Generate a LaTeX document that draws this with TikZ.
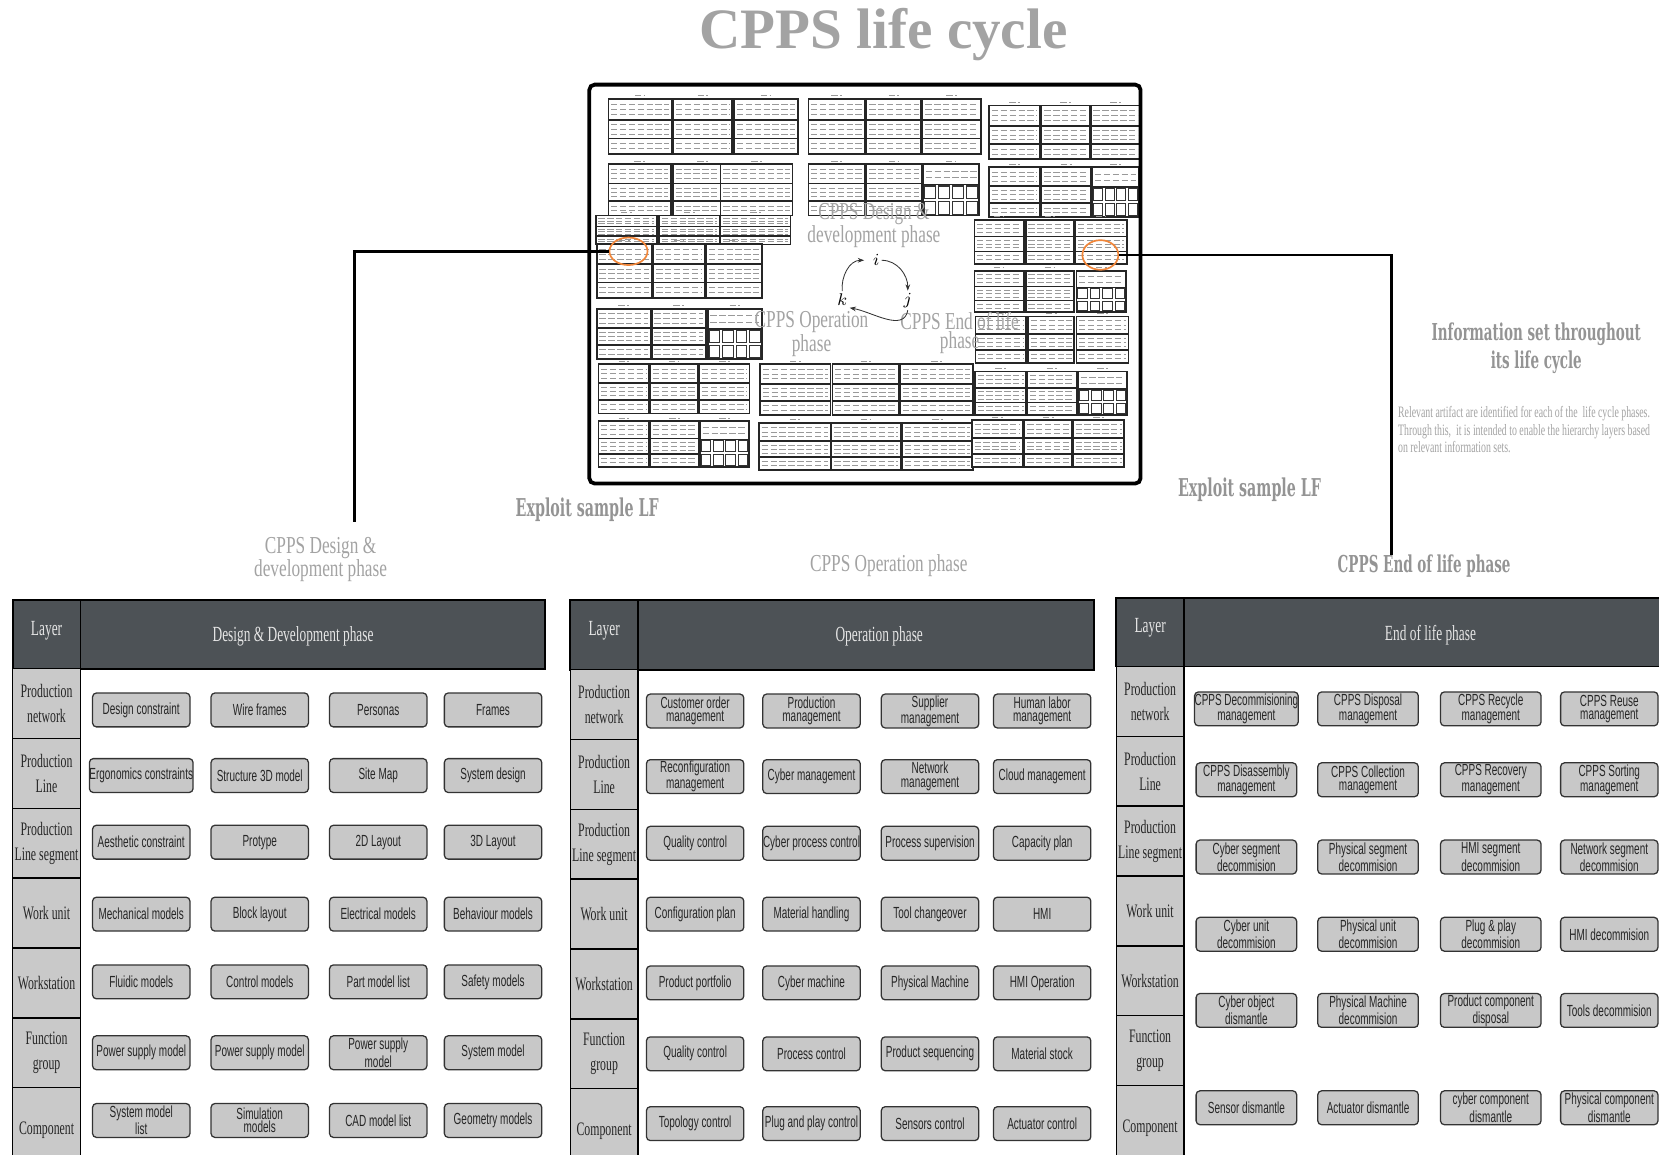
\documentclass[tikz,border=0pt]{standalone}
\usepackage{fontspec}
\setmainfont{Liberation Serif}
\newfontfamily\itemfont[FakeStretch=0.62]{Liberation Sans}
\newfontfamily\layerfont[FakeStretch=0.62]{Liberation Serif}
\newfontfamily\phasefont[FakeStretch=0.71]{Liberation Serif}
\newfontfamily\slabfont[FakeStretch=0.58]{DejaVu Serif Bold}
\usetikzlibrary{shapes.geometric, arrows.meta, positioning}

\definecolor{hdrgray}{HTML}{4D5256}
\definecolor{cellgray}{HTML}{C9C9C9}
\definecolor{boxgray}{HTML}{C8C8C8}
\definecolor{labelgray}{HTML}{A3A3A3}
\definecolor{ringorange}{HTML}{F0863A}

% text rows inside one sheet box: x-left, y-top, x-right, y-bottom, rows
\newcommand\lfrules[5]{%
  \foreach \kk in {1,...,#5}{
    \pgfmathsetmacro\lfyy{#2+(#4-#2)*\kk/(#5+1)}
    \draw[scribble] ({#1+2.5},-\lfyy) -- ({#3-2.5},-\lfyy);
  }}

% one small LF sheet of the overview: x-left, y-top, x-right, y-bottom
\newcommand\lfsheet[4]{%
  \pgfmathsetmacro\lfya{#2+0.38*(#4-#2)}
  \pgfmathsetmacro\lfyb{#2+0.72*(#4-#2)}
  \draw[scribble] ({(#1+#3)/2-5},{-#2+3}) -- ++(10,0);
  \draw[sheet] (#1,-#2) rectangle (#3,-\lfya);
  \draw[sheet] (#1,-\lfya) rectangle (#3,-\lfyb);
  \draw[sheet] (#1,-\lfyb) rectangle (#3,-#4);
  \lfrules{#1}{#2}{#3}{\lfya}{3}
  \lfrules{#1}{\lfya}{#3}{\lfyb}{3}
  \lfrules{#1}{\lfyb}{#3}{#4}{2}}

% sheet with a block of small cells at the bottom
\newcommand\lfgridsheet[4]{%
  \pgfmathsetmacro\lfya{#2+0.4*(#4-#2)}
  \pgfmathsetmacro\lfcw{(#3-#1)/4}
  \pgfmathsetmacro\lfch{(#4-\lfya)/2}
  \draw[scribble] ({(#1+#3)/2-5},{-#2+3}) -- ++(10,0);
  \draw[sheet] (#1,-#2) rectangle (#3,-\lfya);
  \lfrules{#1}{#2}{#3}{\lfya}{2}
  \draw[sheet] (#1,-\lfya) rectangle (#3,-#4);
  \foreach \cx in {0,...,3}{
    \foreach \cy in {0,1}{
      \draw[cellbox] ({#1+\cx*\lfcw+1.3},{-(\lfya+\cy*\lfch+1.3)}) rectangle ++({\lfcw-2.6},{-(\lfch-2.6)});
    }}}

% a band of sheets: y-top, y-bottom, list of x-left/x-right
\newcommand\lfrow[3]{%
  \foreach \xa/\xb in {#3}{\lfsheet{\xa}{#1}{\xb}{#2}}}

% layer column of a phase table: x-left, y-top, name prefix
\newcommand\layercol[3]{%
  \foreach \lbl [count=\rw] in {{Production\\network},{Production\\Line},{Production\\Line segment},{Work unit},{Workstation},{Function\\group},{Component}}{
    \pgfmathsetmacro\lcy{#2+66*(\rw-1)}
    \pgfmathsetmacro\lch{ifthenelse(\rw==7,80,66)}
    \draw[laycell] (#1,-\lcy) rectangle ++(64,-\lch);
    \node[laytext] (#3\rw) at ({#1+32},{-\lcy-\lch/2}) {\lbl};
  }}

\begin{document}
\begin{tikzpicture}[x=0.5pt, y=0.5pt,
    sheet/.style={draw=black!85, line width=0.8pt, fill=white},
    cellbox/.style={draw=black!80, line width=0.5pt, fill=white},
    scribble/.style={draw=black!40, line width=0.3pt, dash pattern=on 3pt off 1.2pt},
    frame/.style={draw=black, line width=1.8pt, rounded corners=2.5pt},
    link/.style={draw=black, line width=1.4pt},
    ring/.style={ellipse, draw=ringorange, line width=0.8pt, inner sep=0pt},
    cyc/.style={inner sep=1pt, font=\fontsize{8}{9}\selectfont},
    cycarrow/.style={-{Stealth[length=3pt, width=2.2pt]}, line width=0.4pt, black!80},
    title/.style={text=labelgray, font=\bfseries\fontsize{27}{30}\selectfont},
    slab/.style={align=center, text=black!42, font=\slabfont\fontsize{11}{13.5}\selectfont},
    phaselabel/.style={align=center, text=labelgray, font=\phasefont\fontsize{11.5}{11}\selectfont},
    phasetight/.style={align=center, text=labelgray, font=\phasefont\fontsize{11.5}{6.5}\selectfont},
    note/.style={align=left, text=labelgray, inner sep=0pt, font=\layerfont\fontsize{7.5}{8.25}\selectfont},
    hdrcell/.style={draw=black, line width=0.8pt, fill=hdrgray},
    hdrtext/.style={text=white!90!black, font=\layerfont\fontsize{10.2}{12}\selectfont},
    laycell/.style={draw=black, line width=0.7pt, fill=cellgray},
    laytext/.style={align=center, inner sep=0pt, text=black!85, font=\layerfont\fontsize{9}{12}\selectfont},
    item/.style={draw=black!80, line width=0.6pt, fill=boxgray, rounded corners=1.8pt,
      minimum width=46pt, minimum height=16pt, inner sep=0pt, align=center, text=black!85,
      font=\itemfont\fontsize{7.6}{6.4}\selectfont}]

  \useasboundingbox (0,0) rectangle (1568,-1091);

  % title
  \node[title, anchor=base] (lifecycle) at (835,-46) {CPPS life cycle};

  % overview of the LF sheets
  \lfrow{93.5}{145.5}{575/635, 636.5/692, 694/754}
  \lfrow{93.5}{145.5}{764/817.5, 819/870.7, 872/927}
  \lfrow{99.8}{150.2}{935/983, 984.5/1030, 1031/1078}
  \lfrow{155}{203.7}{575/634, 636/692, 681/749}
  \lfrow{155}{203.7}{764/817.5, 819/871}
  \lfgridsheet{872.5}{155}{925.5}{203.7}
  \lfrow{158}{205.3}{935/983, 984.5/1031}
  \lfgridsheet{1032.5}{158}{1076}{205.3}
  \lfrow{203.7}{231}{563/621, 623/680, 681/747}
  \lfrow{230.4}{281.4}{564/616, 617.7/666, 667.4/720}
  \lfrow{207.8}{249.3}{921/967.7, 969.4/1015, 1016.4/1065}
  \lfrow{256}{295}{921/967.7, 969.4/1015.3}
  \lfgridsheet{1017.4}{256}{1064.3}{295}
  \lfrow{291.8}{339}{564/615, 616/667}
  \lfgridsheet{669}{291.8}{720}{339}
  \lfrow{299}{343}{922/970, 971.8/1015.3, 1017.4/1066.7}
  \lfrow{344.3}{390.9}{565.6/613.6, 614.6/659.8, 660.9/708.5}
  \lfrow{344.3}{392.5}{718.5/785, 786.7/850, 851/919.3}
  \lfrow{351}{392}{921.4/970, 970.8/1017.4}
  \lfgridsheet{1018.8}{351}{1065.4}{392}
  \lfrow{398}{441.3}{565.6/613.6, 614.6/660.9}
  \lfgridsheet{661.6}{398}{707.8}{441.3}
  \lfrow{399.7}{444.4}{717.4/785, 786/851, 852.8/919.3}
  \lfrow{397}{441.3}{918.6/966.6, 968.4/1013, 1014/1062.6}

  % phase names and cycle
  \node[phaselabel] (ddmid) at (826,-213) {CPPS Design \&\\development phase};
  \node[phasetight] (opmid) at (767,-316) {CPPS Operation\\phase};
  \node[phasetight] (eolmid) at (907,-315) {CPPS End of life\\phase};
  \node[cyc] (ci) at (828,-246) {$i$};
  \node[cyc] (cj) at (858,-284) {$j$};
  \node[cyc] (ck) at (796,-283) {$k$};
  \draw[cycarrow] (ck.north) to[out=95, in=180] ([xshift=-3pt]ci.west);
  \draw[cycarrow] (ci.east) to[out=0, in=90] (cj.north);
  \draw[cycarrow] (cj.south) to[out=-100, in=-10] (ck.south east);

  \draw[frame] (557,-80) rectangle (1078,-457);

  % selected sheets and links to the tables
  \node[ring, minimum width=18pt, minimum height=13pt] (ringl) at (594,-237.5) {};
  \node[ring, minimum width=17pt, minimum height=14pt] (ringr) at (1040,-241) {};
  \coordinate (ldrop) at (335,-493);
  \coordinate (rdrop) at (1315,-525);
  \draw[link] (ringl.west) -| (ldrop);
  \draw[link] (ringr.east) -| (rdrop);

  % side texts
  \node[slab] (infoset) at (1452,-329) {Information set throughout\\its life cycle};
  \node[note, anchor=north west] (infotext) at (1321,-384) {Relevant artifact are identified for each of the \ life cycle phases.\\Through this, \ it is intended to enable the hierarchy layers based\\on relevant information sets.};
  \node[slab, font=\slabfont\fontsize{11.6}{13.5}\selectfont] (exploitl) at (555,-482) {Exploit sample LF};
  \node[slab, font=\slabfont\fontsize{11.6}{13.5}\selectfont] (exploitr) at (1181,-463) {Exploit sample LF};
  \node[phaselabel] (ddlabel) at (303,-529) {CPPS Design \&\\development phase};
  \node[phaselabel] (oplabel) at (840,-535) {CPPS Operation phase};
  \node[slab] (eollabel) at (1346,-535) {CPPS End of life phase};

  % Design & Development table
  \draw[hdrcell] (12,-567) rectangle (76,-632);
  \draw[hdrcell] (76,-567) rectangle (515,-632);
  \node[hdrtext] (ddlayer) at (44,-596) {Layer};
  \node[hdrtext] (ddhead) at (277,-601) {Design \& Development phase};
  \layercol{12}{632}{ddrow}
  \foreach \yy/\ta/\tb/\tc/\td [count=\rw] in {
      671/{Design constraint}/{Wire frames}/{Personas}/{Frames},
      733/{Ergonomics constraints}/{Structure 3D model}/{Site Map}/{System design},
      796/{Aesthetic constraint}/{Protype}/{2D Layout}/{3D Layout},
      864/{Mechanical models}/{Block layout}/{Electrical models}/{Behaviour models},
      928/{Fluidic models}/{Control models}/{Part model list}/{Safety models},
      995/{Power supply model}/{Power supply model}/{Power supply\\model}/{System model},
      1059/{System model\\list}/{Simulation\\models}/{CAD model list}/{Geometry models}}{
    \node[item] (dd\rw-1) at (133.5,-\yy) {\ta};
    \node[item] (dd\rw-2) at (245.5,-\yy) {\tb};
    \node[item] (dd\rw-3) at (357.5,-\yy) {\tc};
    \node[item] (dd\rw-4) at (466,-\yy) {\td};
  }

  % Operation table
  \draw[hdrcell] (539,-567) rectangle (603,-633);
  \draw[hdrcell] (603,-567) rectangle (1034,-633);
  \node[hdrtext] (oplayer) at (571,-596) {Layer};
  \node[hdrtext] (ophead) at (831,-601) {Operation phase};
  \layercol{539}{633}{oprow}
  \foreach \yy/\ta/\tb/\tc/\td [count=\rw] in {
      672/{Customer order\\management}/{Production\\management}/{Supplier\\management}/{Human labor\\management},
      734/{Reconfiguration\\management}/{Cyber management}/{Network\\management}/{Cloud management},
      797/{Quality control}/{Cyber process control}/{Process supervision}/{Capacity plan},
      864/{Configuration plan}/{Material handling}/{Tool changeover}/{HMI},
      929/{Product portfolio}/{Cyber machine}/{Physical Machine}/{HMI Operation},
      996/{Quality control}/{Process control}/{Product sequencing}/{Material stock},
      1062/{Topology control}/{Plug and play control}/{Sensors control}/{Actuator control}}{
    \node[item] (op\rw-1) at (657,-\yy) {\ta};
    \node[item] (op\rw-2) at (767,-\yy) {\tb};
    \node[item] (op\rw-3) at (879,-\yy) {\tc};
    \node[item] (op\rw-4) at (985,-\yy) {\td};
  }

  % End of life table
  \draw[hdrcell] (1055,-565) rectangle (1119,-630);
  \draw[hdrcell] (1119,-565) rectangle (1590,-630);
  \node[hdrtext] (eollayer) at (1087,-593) {Layer};
  \node[hdrtext] (eolhead) at (1352,-600) {End of life phase};
  \layercol{1055}{630}{eolrow}
  \foreach \yy/\ta/\tb/\tc/\td [count=\rw] in {
      670/{CPPS Decommisioning\\management}/{CPPS Disposal\\management}/{CPPS Recycle\\management}/{CPPS Reuse\\management},
      737/{CPPS Disassembly\\management}/{CPPS Collection\\management}/{CPPS Recovery\\management}/{CPPS Sorting\\management},
      810/{Cyber segment\\decommision}/{Physical segment\\decommision}/{HMI segment\\decommision}/{Network segment\\decommision},
      883/{Cyber unit\\decommision}/{Physical unit\\decommision}/{Plug \& play\\decommision}/{HMI decommision},
      955/{Cyber object\\dismantle}/{Physical Machine\\decommision}/{Product component\\disposal}/{Tools decommision},
      1047/{Sensor dismantle}/{Actuator dismantle}/{cyber component\\dismantle}/{Physical component\\dismantle}}{
    \node[item, minimum width=47.5pt] (eol\rw-1) at (1178,-\yy) {\ta};
    \node[item, minimum width=47.5pt] (eol\rw-2) at (1293,-\yy) {\tb};
    \node[item, minimum width=47.5pt] (eol\rw-3) at (1409,-\yy) {\tc};
    \node[item, minimum width=46pt] (eol\rw-4) at (1521,-\yy) {\td};
  }
\end{tikzpicture}
\end{document}
